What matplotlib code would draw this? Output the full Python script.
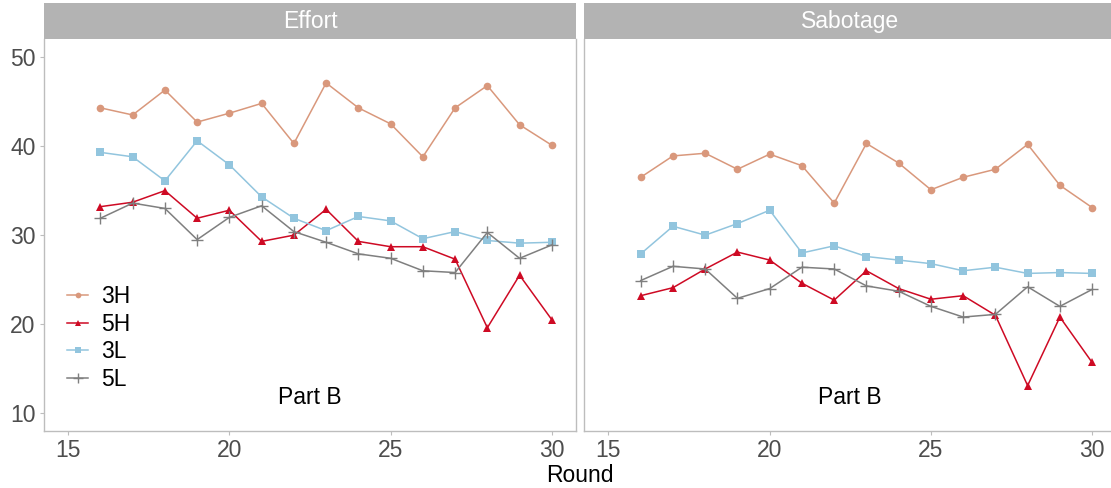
import matplotlib
matplotlib.use("Agg")
import matplotlib.pyplot as plt
from matplotlib.patches import Rectangle

plt.rcParams['font.family'] = ['Liberation Sans', 'DejaVu Sans']

rounds = list(range(16, 31))
panels = ["Effort", "Sabotage"]
groups = ["3H", "5H", "3L", "5L"]

effort_3H = [44.3, 43.5, 46.3, 42.7, 43.7, 44.8, 40.3, 47.1, 44.3, 42.5, 38.8, 44.3, 46.8, 42.4, 40.1]
effort_5H = [33.2, 33.7, 35.0, 31.9, 32.8, 29.3, 30.0, 32.9, 29.3, 28.7, 28.7, 27.3, 19.6, 25.5, 20.5]
effort_3L = [39.3, 38.8, 36.1, 40.6, 37.9, 34.3, 31.9, 30.5, 32.1, 31.6, 29.6, 30.4, 29.4, 29.1, 29.2]
effort_5L = [31.9, 33.6, 33.0, 29.5, 32.0, 33.3, 30.4, 29.2, 27.9, 27.4, 26.0, 25.8, 30.3, 27.4, 28.9]

sabotage_3H = [36.5, 38.9, 39.2, 37.4, 39.1, 37.8, 33.6, 40.3, 38.1, 35.1, 36.5, 37.4, 40.2, 35.6, 33.1]
sabotage_5H = [23.2, 24.1, 26.2, 28.1, 27.2, 24.6, 22.7, 26.0, 24.0, 22.8, 23.2, 21.0, 13.1, 20.8, 15.7]
sabotage_3L = [27.9, 31.0, 30.0, 31.3, 32.8, 28.0, 28.8, 27.6, 27.2, 26.8, 26.0, 26.4, 25.7, 25.8, 25.7]
sabotage_5L = [24.9, 26.5, 26.2, 22.9, 24.0, 26.4, 26.2, 24.3, 23.7, 22.0, 20.8, 21.1, 24.2, 22.0, 23.9]

x_ticks = [15, 20, 25, 30]
y_ticks = [10, 20, 30, 40, 50]

series = {
    "Effort": [effort_3H, effort_5H, effort_3L, effort_5L],
    "Sabotage": [sabotage_3H, sabotage_5H, sabotage_3L, sabotage_5L],
}

styles = {
    "3H": dict(color="#D9987C", marker="o", ms=5.5, mew=0),
    "5H": dict(color="#CE0A24", marker="^", ms=6, mew=0),
    "3L": dict(color="#92C5DE", marker="s", ms=5.5, mew=0),
    "5L": dict(color="#7F7F7F", marker="+", ms=9, mew=1.0),
}

FS = 16.5

W, H = 1111, 488
fig = plt.figure(figsize=(W / 100, H / 100), dpi=100)

def fx(px):
    return px / W

def fy(py):
    return 1 - py / H

panel_left = [44, 584.3]
panel_w = 532
panel_top, panel_bottom = 39.3, 431
strip_top = 3.3
border_col = "#BDBDBD"

axes = []
for i, name in enumerate(panels):
    ax = fig.add_axes([fx(panel_left[i]), fy(panel_bottom), panel_w / W,
                       (panel_bottom - panel_top) / H])
    for g, vals in zip(groups, series[name]):
        st = styles[g]
        ax.plot(rounds, vals, color=st["color"], lw=1.1, marker=st["marker"],
                ms=st["ms"], mew=st["mew"], mec=st["color"], mfc=st["color"],
                label=g)
    ax.set_xlim(14.25, 30.75)
    ax.set_ylim(8, 52)
    ax.set_xticks(x_ticks)
    ax.set_yticks(y_ticks)
    ax.tick_params(axis="both", colors="#BDBDBD", labelcolor="#4D4D4D",
                   labelsize=FS, length=3, width=0.8, pad=3)
    if i == 1:
        ax.tick_params(axis="y", left=False, labelleft=False)
    for s in ax.spines.values():
        s.set_color(border_col)
        s.set_linewidth(1.0)
    ax.spines["top"].set_visible(False)
    ax.text(22.5, 11.8, "Part B", ha="center", va="center", fontsize=FS,
            color="black")
    # facet strip
    fig.patches.append(Rectangle((fx(panel_left[i]), fy(panel_top)), panel_w / W,
                                 (panel_top - strip_top) / H, transform=fig.transFigure,
                                 facecolor="#B3B3B3", edgecolor="none", zorder=0))
    fig.text(fx(panel_left[i] + panel_w / 2), fy((panel_top + strip_top) / 2), name,
             ha="center", va="center", color="white", fontsize=FS)
    axes.append(ax)

leg = axes[0].legend(loc="center left",
                     bbox_to_anchor=((66.7 - 44) / panel_w, (431 - 337.9) / (431 - 39.3)),
                     frameon=False, fontsize=FS, handlelength=0.95,
                     handletextpad=0.55, labelspacing=0.2, borderpad=0,
                     borderaxespad=0, markerscale=0.75)

fig.text(fx(580), fy(476), "Round", ha="center", va="center", fontsize=FS,
         color="black")

fig.savefig("out.png", dpi=100)
